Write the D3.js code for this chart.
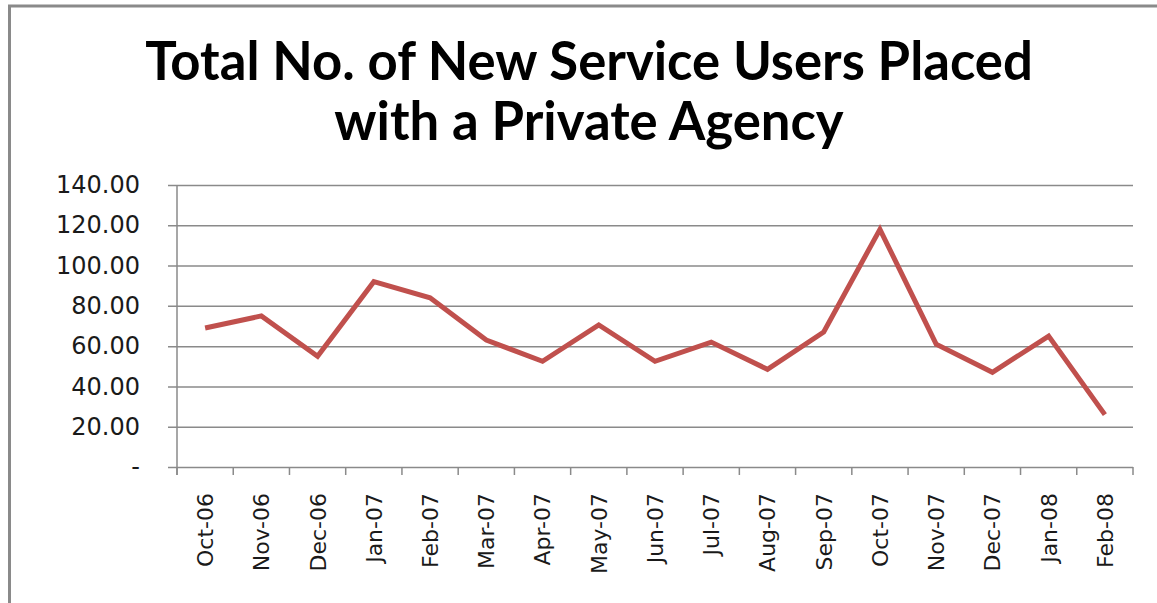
<!DOCTYPE html>
<html>
<head>
<meta charset="utf-8">
<script src="https://cdn.jsdelivr.net/npm/d3@7"></script>
<style>
  body { margin: 0; background: #fff; }
  svg { display: block; }
</style>
</head>
<body>
<div id="chart"></div>
<script>
const titleLines = ["Total No. of New Service Users Placed", "with a Private Agency"];
const months = ["Oct-06", "Nov-06", "Dec-06", "Jan-07", "Feb-07", "Mar-07", "Apr-07", "May-07",
    "Jun-07", "Jul-07", "Aug-07", "Sep-07", "Oct-07", "Nov-07", "Dec-07", "Jan-08", "Feb-08"];
const users = [69, 75, 55, 92, 84, 63, 52.5, 70.5, 52.5, 62, 48.5, 67, 118, 61, 47, 65, 26];
const yTicks = [0, 20, 40, 60, 80, 100, 120, 140];

const width = 1157, height = 603;
const margin = { top: 185, right: 24, bottom: 136, left: 177 };
const plotW = width - margin.left - margin.right;
const plotH = height - margin.top - margin.bottom;
const gray = "#8a8a8a";

const svg = d3.select("#chart").append("svg").attr("width", width).attr("height", height);

// frame of the chart area
svg.append("path")
    .attr("d", "M9.5,603 L9.5,6 L1157,6")
    .attr("fill", "none").attr("stroke", gray).attr("stroke-width", 3);

// title, fitted to the width of the original
const title = svg.append("g").attr("font-family", "Lato, sans-serif").attr("font-weight", "bold")
    .attr("fill", "#000").attr("text-anchor", "middle");
titleLines.forEach((line, i) => {
    title.append("text").attr("x", 589).attr("y", 80 + i * 60).attr("font-size", 48).text(line);
});
const first = title.select("text").node();
const fitSize = 48 * 888 / first.getComputedTextLength();
title.selectAll("text").attr("font-size", fitSize);

const g = svg.append("g").attr("transform", `translate(${margin.left},${margin.top})`);

const x = d3.scaleBand().domain(months).range([0, plotW]);
const y = d3.scaleLinear().domain([0, 140]).range([plotH, 0]);

// gridlines with the short ticks on the left
g.append("g")
    .call(d3.axisLeft(y).tickValues(yTicks).tickSize(-plotW).tickFormat(""))
    .call(a => a.select(".domain").remove())
    .call(a => a.selectAll("line").attr("stroke", gray).attr("stroke-width", 1.5).attr("x1", -9));

// y labels
g.append("g")
    .call(d3.axisLeft(y).tickValues(yTicks).tickSize(0).tickPadding(37)
        .tickFormat(d => d === 0 ? "-" : d.toFixed(2)))
    .call(a => a.select(".domain").remove())
    .call(a => a.selectAll("text").attr("font-family", "DejaVu Sans, sans-serif")
        .attr("font-size", 24).attr("fill", "#1a1a1a"));

// y axis line
g.append("line").attr("x1", 0).attr("x2", 0).attr("y1", 0).attr("y2", plotH + 8)
    .attr("stroke", gray).attr("stroke-width", 1.5);

// x tick marks at category boundaries
const bounds = months.map(m => x(m)).concat([plotW]);
g.append("g").selectAll("line").data(bounds).join("line")
    .attr("x1", d => d).attr("x2", d => d).attr("y1", plotH).attr("y2", plotH + 8)
    .attr("stroke", gray).attr("stroke-width", 1.5);

// x labels, rotated
g.append("g").attr("transform", `translate(0,${plotH})`)
    .call(d3.axisBottom(x).tickSize(0).tickPadding(0))
    .call(a => a.select(".domain").remove())
    .call(a => a.selectAll("text")
        .attr("font-family", "DejaVu Sans, sans-serif").attr("font-size", 22).attr("fill", "#1a1a1a")
        .attr("text-anchor", "end").attr("dy", "0.36em").attr("y", 0)
        .attr("transform", "translate(0,26) rotate(-90)"));

// data line
const line = d3.line().x((d, i) => x(months[i]) + x.bandwidth() / 2).y(d => y(d));
g.append("path").datum(users)
    .attr("d", line)
    .attr("fill", "none").attr("stroke", "#c0504d").attr("stroke-width", 5)
    .attr("stroke-linejoin", "miter").attr("stroke-linecap", "butt");
</script>
</body>
</html>
